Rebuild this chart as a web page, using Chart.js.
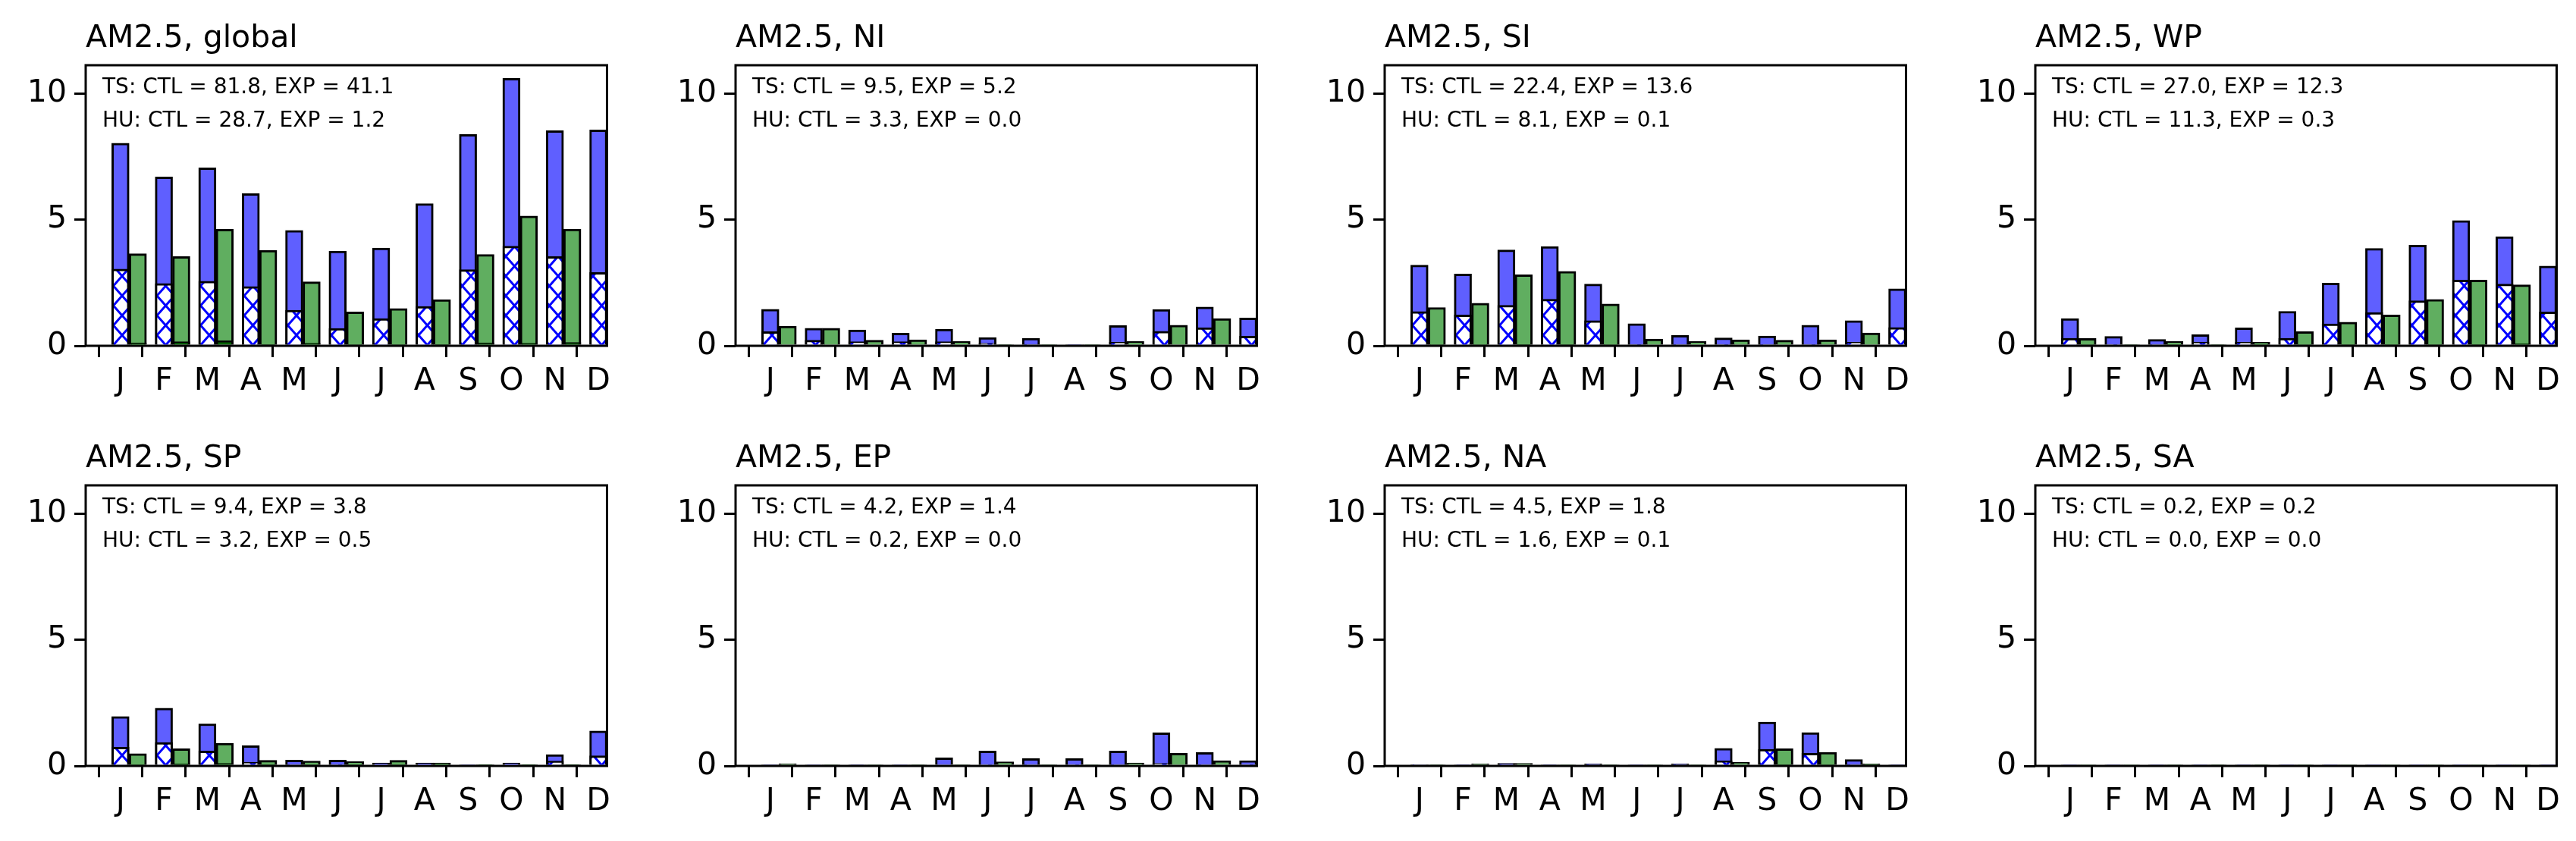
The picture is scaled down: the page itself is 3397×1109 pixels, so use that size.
<!DOCTYPE html>
<html><head><meta charset="utf-8">
<script src="https://cdn.jsdelivr.net/npm/chart.js@4"></script>
<style>body{margin:0;background:#fff;width:3397px;height:1109px;position:relative;overflow:hidden}canvas{position:absolute}</style>
</head><body>
<script>
const months = ["J","F","M","A","M","J","J","A","S","O","N","D"];
const regions = ["global","NI","SI","WP","SP","EP","NA","SA"];
const tsCTL = {
 global:[8.04,6.70,7.06,6.04,4.58,3.76,3.88,5.64,8.38,10.61,8.53,8.56],
 NI:[1.45,0.70,0.63,0.50,0.66,0.33,0.30,0.06,0.80,1.44,1.54,1.10],
 SI:[3.20,2.85,3.80,3.94,2.45,0.88,0.41,0.31,0.39,0.82,1.00,2.26],
 WP:[1.08,0.37,0.25,0.44,0.71,1.37,2.49,3.86,3.99,4.97,4.33,3.16],
 SP:[1.96,2.29,1.67,0.80,0.23,0.23,0.12,0.12,0.06,0.12,0.45,1.39],
 EP:[0.06,0.03,0.04,0.03,0.32,0.59,0.29,0.29,0.59,1.31,0.53,0.21],
 NA:[0.05,0.05,0.10,0.05,0.08,0.03,0.08,0.70,1.74,1.32,0.25,0.04],
 SA:[0.02,0.02,0.03,0.02,0.02,0.02,0.02,0.01,0.01,0.01,0.01,0.02]};
const huCTL = {
 global:[3.04,2.47,2.56,2.35,1.41,0.69,1.08,1.56,3.02,3.95,3.54,2.91],
 NI:[0.56,0.22,0.16,0.16,0.16,0.10,0.06,0.00,0.14,0.58,0.72,0.38],
 SI:[1.36,1.22,1.61,1.85,1.00,0.05,0.02,0.02,0.02,0.03,0.14,0.73],
 WP:[0.30,0.03,0.03,0.15,0.14,0.30,0.87,1.32,1.79,2.61,2.45,1.34],
 SP:[0.74,0.93,0.59,0.15,0.03,0.03,0.00,0.00,0.00,0.00,0.19,0.40],
 EP:[0.00,0.00,0.00,0.00,0.00,0.01,0.01,0.01,0.03,0.10,0.03,0.02],
 NA:[0.01,0.00,0.02,0.00,0.01,0.00,0.02,0.20,0.66,0.50,0.05,0.00],
 SA:[0,0,0,0,0,0,0,0,0,0,0,0]};
const tsEXP = {
 global:[3.65,3.54,4.62,3.79,2.54,1.34,1.48,1.83,3.62,5.15,4.63,4.78],
 NI:[0.78,0.70,0.22,0.24,0.17,0.05,0.03,0.03,0.17,0.82,1.08,0.78],
 SI:[1.52,1.69,2.82,2.95,1.66,0.27,0.17,0.24,0.22,0.24,0.51,1.21],
 WP:[0.29,0.05,0.18,0.05,0.14,0.56,0.94,1.22,1.84,2.61,2.42,1.84],
 SP:[0.49,0.68,0.90,0.22,0.19,0.17,0.22,0.12,0.05,0.04,0.05,0.57],
 EP:[0.09,0.06,0.03,0.04,0.06,0.16,0.06,0.04,0.12,0.50,0.21,0.06],
 NA:[0.05,0.08,0.10,0.03,0.05,0.03,0.02,0.15,0.68,0.54,0.08,0.04],
 SA:[0.01,0.01,0.02,0.05,0.04,0.02,0.01,0.01,0.01,0.01,0.01,0.01]};
const huEXP = {
 global:[0.12,0.16,0.20,0.05,0.10,0.03,0.02,0.04,0.12,0.10,0.13,0.15],
 NI:[0,0,0,0,0,0,0,0,0,0,0,0],
 SI:[0.01,0.01,0.05,0.02,0.01,0,0,0,0,0,0,0],
 WP:[0.01,0,0.01,0,0.01,0.01,0.02,0.02,0.03,0.05,0.08,0.06],
 SP:[0.04,0.08,0.10,0.05,0.03,0.02,0.03,0.02,0.01,0.01,0.02,0.09],
 EP:[0,0,0,0,0,0,0,0,0,0,0,0],
 NA:[0,0,0,0,0,0,0,0,0.05,0.03,0.01,0],
 SA:[0,0,0,0,0,0,0,0,0,0,0,0]};
const tsText = {global:["81.8","41.1"],NI:["9.5","5.2"],SI:["22.4","13.6"],WP:["27.0","12.3"],SP:["9.4","3.8"],EP:["4.2","1.4"],NA:["4.5","1.8"],SA:["0.2","0.2"]};
const huText = {global:["28.7","1.2"],NI:["3.3","0.0"],SI:["8.1","0.1"],WP:["11.3","0.3"],SP:["3.2","0.5"],EP:["0.2","0.0"],NA:["1.6","0.1"],SA:["0.0","0.0"]};
const yTicks = [0,5,10];

const colLeft=[113,970,1826,2684], rowTop=[86,640], AW=688, AH=370, PADL=90, PADT=86, PADB=90, PADR=12;
const FONT='"DejaVu Sans"';

function hatch(){
  const c=document.createElement('canvas'); c.width=23; c.height=26;
  const g=c.getContext('2d'); g.fillStyle='#fff'; g.fillRect(0,0,23,26);
  g.strokeStyle='#0000ff'; g.lineWidth=3;
  g.beginPath(); g.moveTo(0,0); g.lineTo(23,26); g.moveTo(23,0); g.lineTo(0,26); g.stroke();
  return g.createPattern(c,'repeat');
}
const pat = hatch();

const framePlugin={id:'frame',afterDatasetsDraw(ch,a,o){
  const {ctx,chartArea:ca}=ch; ctx.save();
  ctx.strokeStyle='#000'; ctx.lineWidth=3; ctx.strokeRect(ca.left,ca.top,ca.right-ca.left,ca.bottom-ca.top);
  ctx.fillStyle='#000'; ctx.textBaseline='alphabetic'; ctx.textAlign='left';
  ctx.font='41px '+FONT; ctx.fillText(o.title,ca.left,62-86+ca.top);
  ctx.font='28px '+FONT; ctx.fillText(o.l1,ca.left+22,ca.top+37); ctx.fillText(o.l2,ca.left+22,ca.top+81);
  ctx.restore();}};

regions.forEach((r,k)=>{
  const cv=document.createElement('canvas');
  const L=colLeft[k%4]-PADL, T=rowTop[Math.floor(k/4)]-PADT;
  const W=PADL+AW+PADR, H=PADT+AH+PADB;
  cv.width=W; cv.height=H; cv.style.left=L+'px'; cv.style.top=T+'px'; cv.style.width=W+'px'; cv.style.height=H+'px';
  document.body.appendChild(cv);
  const pts=(arr,off)=>arr.map((v,i)=>({x:i+off,y:v}));
  const base={grouped:false,borderColor:'#000',borderWidth:3,borderSkipped:'bottom',barPercentage:1,categoryPercentage:1};
  new Chart(cv,{type:'bar',
    data:{datasets:[
      {...base,data:pts(tsCTL[r],0),backgroundColor:'#5f5fff',order:4},
      {...base,data:pts(huCTL[r],0),backgroundColor:pat,order:3},
      {...base,data:pts(tsEXP[r],0.4),backgroundColor:'#60ae60',order:2},
      {...base,data:pts(huEXP[r],0.4),backgroundColor:'#006400',order:1}]},
    options:{responsive:false,animation:false,devicePixelRatio:1,
      layout:{padding:{top:PADT,right:PADR,left:0,bottom:0}},
      plugins:{legend:{display:false},tooltip:{enabled:false},
        frame:{title:'AM2.5, '+r,l1:'TS: CTL = '+tsText[r][0]+', EXP = '+tsText[r][1],l2:'HU: CTL = '+huText[r][0]+', EXP = '+huText[r][1]}},
      scales:{
        x:{type:'linear',min:-0.8,max:11.2,offset:false,
          afterBuildTicks:s=>{s.ticks=months.map((m,i)=>({value:i}));},
          afterFit:s=>{s.height=PADB;},
          ticks:{autoSkip:false,maxRotation:0,color:'#000',font:{family:FONT,size:41},padding:8,callback:(v)=>months[v]},
          grid:{drawOnChartArea:false,drawTicks:true,tickLength:15,color:'#000',lineWidth:3},
          border:{display:false}},
        y:{min:0,max:11.13,
          afterBuildTicks:s=>{s.ticks=yTicks.map(v=>({value:v}));},
          afterFit:s=>{s.width=PADL;},
          ticks:{color:'#000',font:{family:FONT,size:41},padding:10},
          grid:{drawOnChartArea:false,drawTicks:true,tickLength:15,color:'#000',lineWidth:3},
          border:{display:false}}}},
    plugins:[framePlugin]});
});
</script>
</body></html>
